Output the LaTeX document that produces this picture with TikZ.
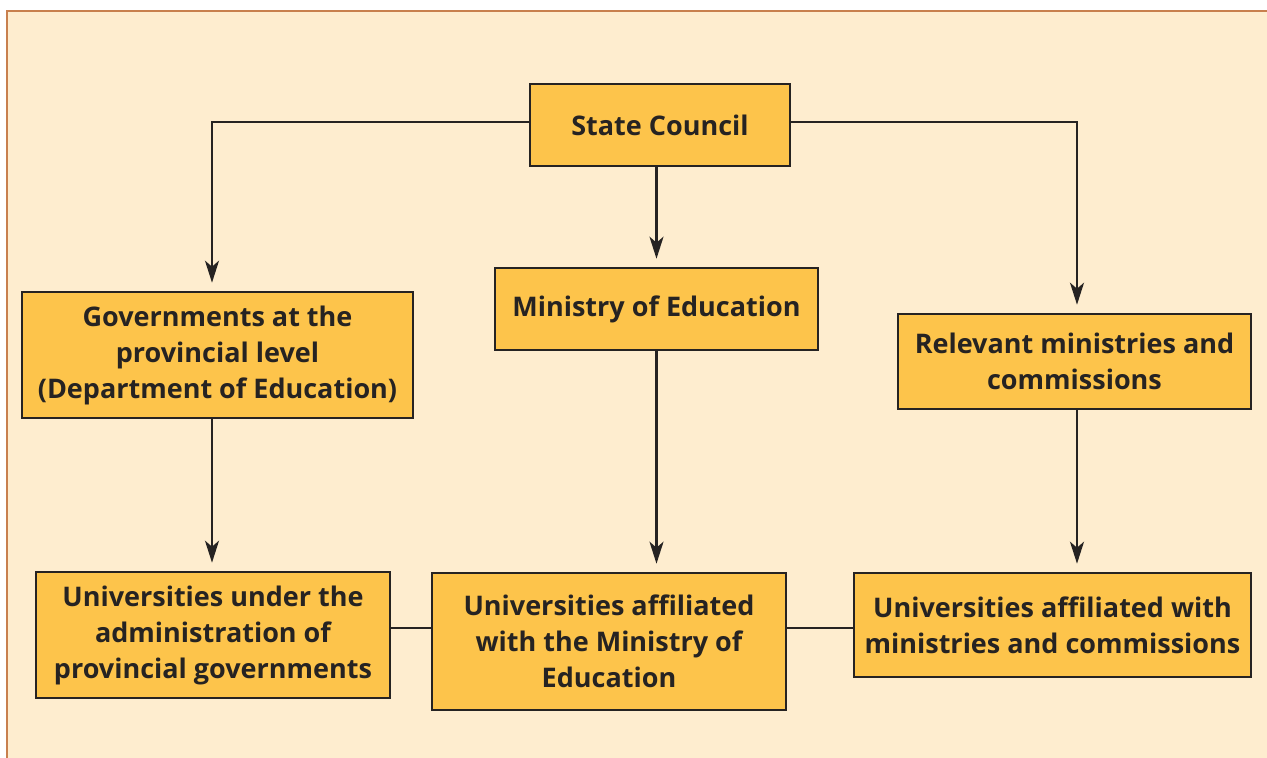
\documentclass[tikz,border=0pt]{standalone}
\usepackage{fontspec}
\setmainfont{Open Sans}
\usetikzlibrary{arrows.meta}
\definecolor{bgcream}{HTML}{FEEDCF}
\definecolor{boxfill}{HTML}{FDC44B}
\definecolor{framec}{HTML}{C8804E}
\definecolor{ink}{HTML}{262322}
\begin{document}
\begin{tikzpicture}[x=1pt,y=-1pt,
  box/.style={draw=ink, line width=2.6pt, fill=boxfill, align=center, inner sep=0pt,
    font=\fontsize{27}{36}\selectfont\bfseries, text=ink},
  conn/.style={draw=ink, line width=2.4pt},
  arr/.style={conn, -{Stealth[length=22pt,width=14pt,inset=6pt]}, shorten >=8pt}]
\useasboundingbox (0,0) rectangle (1267,758);
\fill[white] (0,0) rectangle (1267,758);
\fill[bgcream] (7,11) rectangle (1267,758);
\draw[framec, line width=2.5pt] (7,758) -- (7,11) -- (1267,11);

\node[box, minimum width=260pt, minimum height=82pt] (sc) at (660,125) {State Council};
\node[box, minimum width=323pt, minimum height=82pt] (moe) at (656.5,309) {Ministry of Education};
\node[box, minimum width=391pt, minimum height=126pt] (gov) at (217.5,355) {Governments at the\\provincial level\\(Department of Education)};
\node[box, minimum width=353pt, minimum height=95pt] (rel) at (1074.5,361.5) {Relevant ministries and\\commissions};
\node[box, minimum width=354pt, minimum height=126pt] (up) at (213,635) {Universities under the\\administration of\\provincial governments};
\node[box, minimum width=354pt, minimum height=137pt] (um) at (609,641.5) {Universities affiliated\\with the Ministry of\\Education};
\node[box, minimum width=397pt, minimum height=104pt] (uc) at (1052.5,625) {Universities affiliated with\\ministries and commissions};

\coordinate (lc) at (212,122);
\coordinate (rc) at (1077,122);
\draw[arr] (sc.west |- lc) -- (lc) -- (gov.north -| lc);
\draw[arr] (sc.east |- rc) -- (rc) -- (rel.north -| rc);
\draw[arr] (sc.south -| moe.north) -- (moe.north);
\draw[arr] (moe.south) -- (moe.south |- um.north);
\draw[arr] (gov.south -| lc) -- (up.north -| lc);
\draw[arr] (rel.south -| rc) -- (uc.north -| rc);
\coordinate (hy) at (0,628);
\draw[conn] (up.east |- hy) -- (um.west |- hy);
\draw[conn] (um.east |- hy) -- (uc.west |- hy);
\end{tikzpicture}
\end{document}
